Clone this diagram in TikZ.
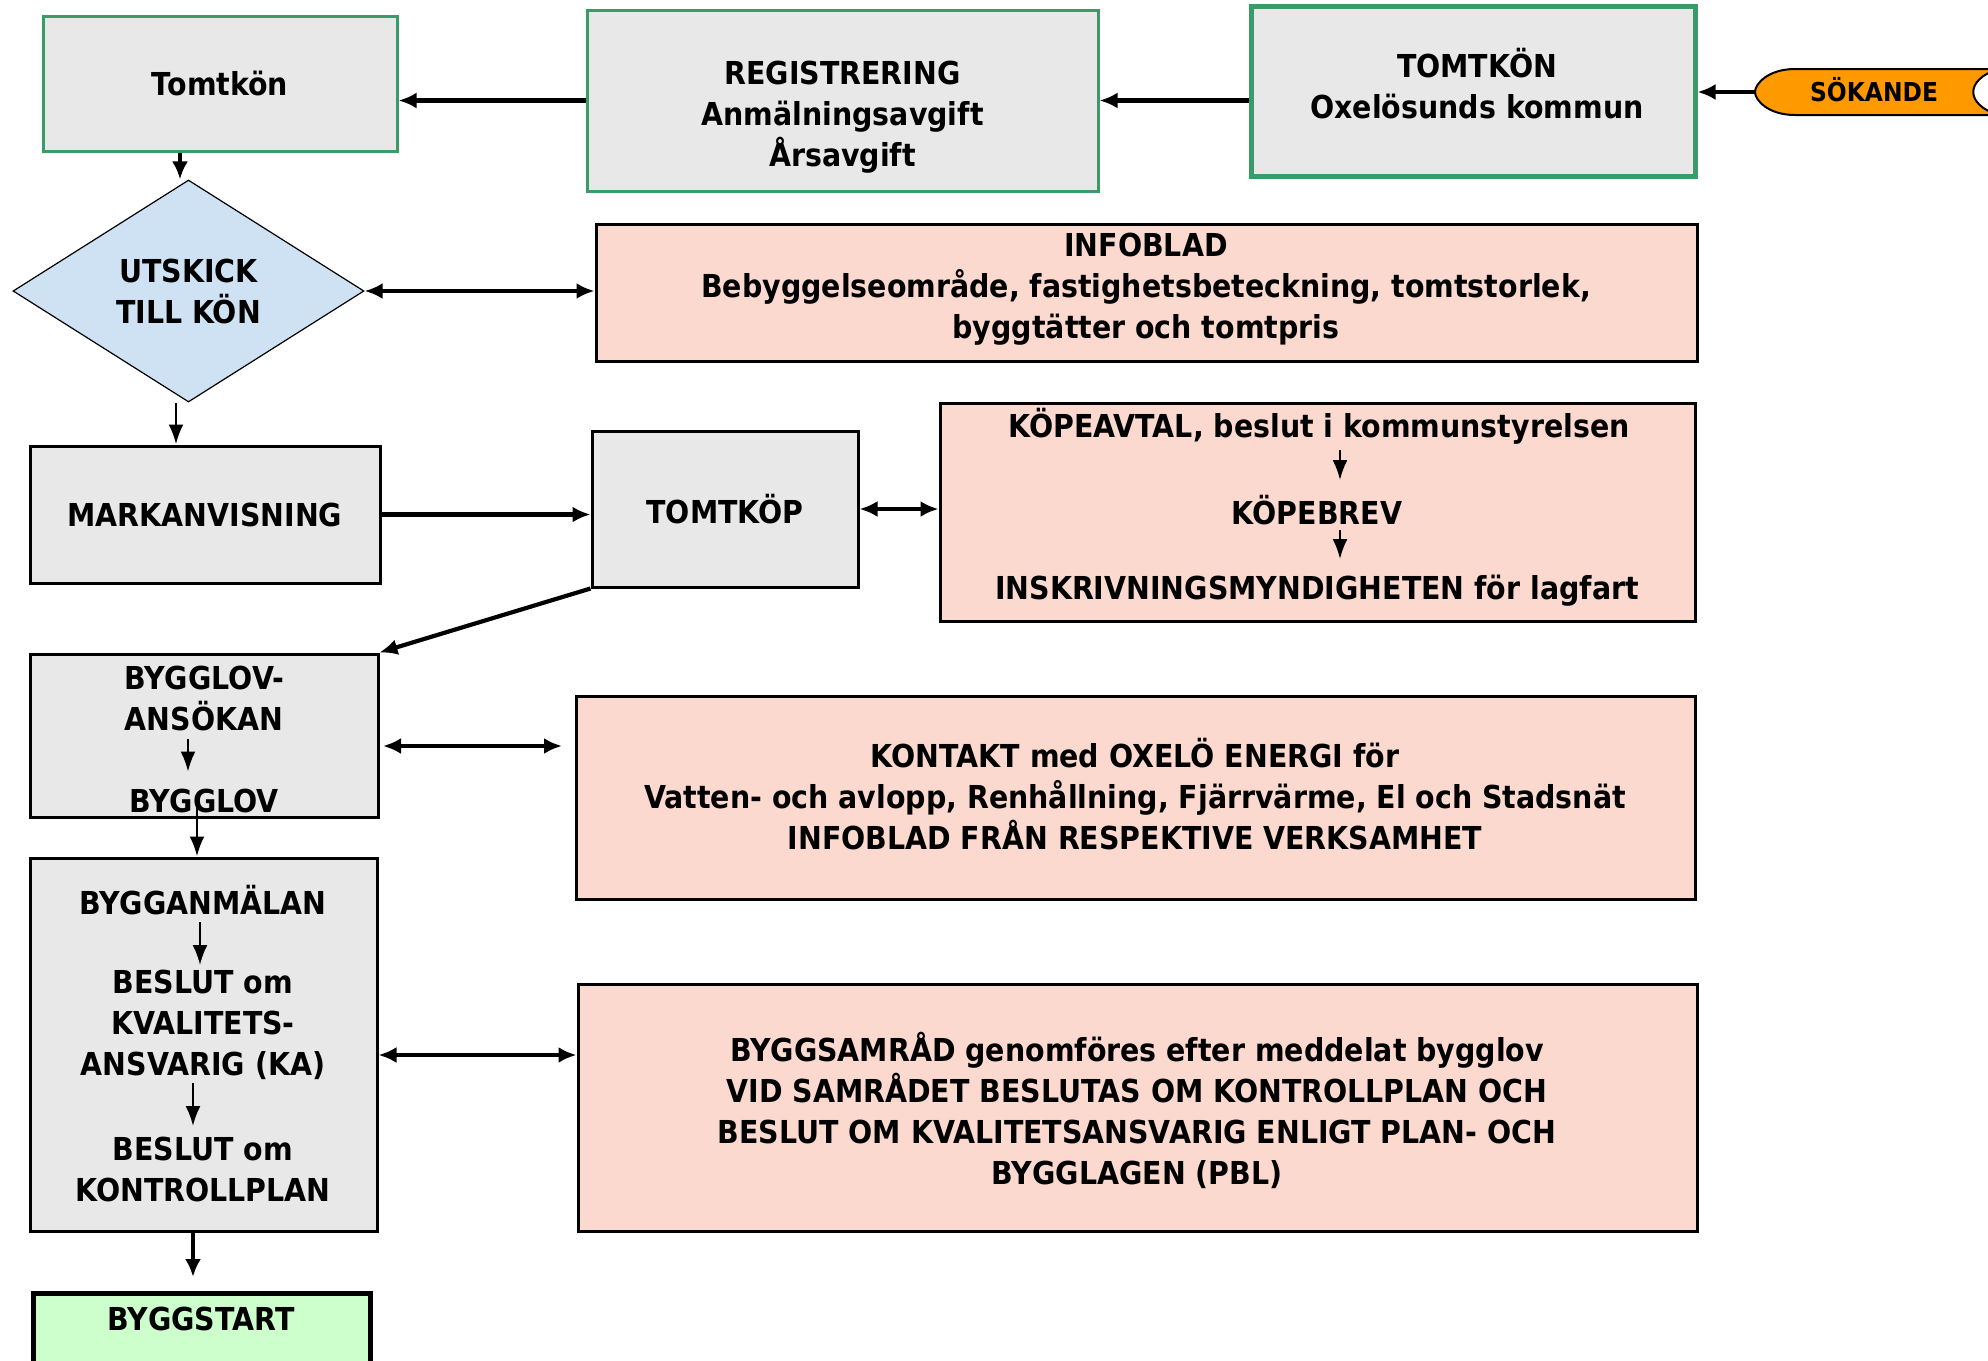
\documentclass[tikz,border=0pt]{standalone}
\usepackage{fontspec}
\setmainfont[FakeStretch=0.9]{DejaVu Sans}
\usetikzlibrary{arrows.meta,shapes.geometric,calc}
\definecolor{gborder}{RGB}{58,154,104}
\definecolor{gfill}{RGB}{232,232,232}
\definecolor{pfill}{RGB}{251,217,206}
\definecolor{bfill}{RGB}{207,226,243}
\definecolor{ofill}{RGB}{255,153,0}
\definecolor{lgfill}{RGB}{204,255,204}
\begin{document}
\begin{tikzpicture}[x=0.5pt,y=-0.5pt,
 txt/.style={font=\bfseries\fontsize{15.8}{20.5}\selectfont, align=center, inner sep=0pt},
 box/.style={draw, inner sep=0pt, line width=1.5pt},
 greenbox/.style={box, draw=gborder, fill=gfill},
 greybox/.style={box, fill=gfill},
 pinkbox/.style={box, fill=pfill},
 arr/.style={line width=2.1pt, -{Latex[length=9pt,width=8pt]}},
 darr/.style={line width=2.1pt, {Latex[length=9pt,width=8pt]}-{Latex[length=9pt,width=8pt]}},
 sarr/.style={line width=1.1pt, -{Latex[length=10pt,width=7.5pt]}},
]
\fill[white] (0,0) rectangle (1988,1361);
\useasboundingbox (0,0) rectangle (1988,1361);

% top row
\node[greenbox, minimum width=177pt, minimum height=67.5pt, txt] (tomtkon) at (220,83.5) {Tomtkön};
\node[greenbox, minimum width=255.5pt, minimum height=90.5pt] (reg) at (842.5,100.5) {};
\node[txt] (regT) at (842.5,117) {REGISTRERING\\Anmälningsavgift\\Årsavgift};
\node[greenbox, line width=2.5pt, minimum width=222pt, minimum height=85pt] (tk2) at (1473,91) {};
\node[txt] (tk2T) at (1477,84) {TOMTKÖN\\Oxelösunds kommun};

% SÖKANDE
\filldraw[fill=ofill, draw=black, line width=1pt]
  (1795,69) -- (1998,69) .. controls (1965,80) and (1965,104) .. (1998,115)
  -- (1795,115) .. controls (1768,115) and (1755,100) .. (1755,92)
  .. controls (1755,84) and (1768,69) .. (1795,69) -- cycle;
\coordinate (soktip) at (1755,92);
\node[font=\bfseries\fontsize{13}{15}\selectfont, inner sep=0pt] (sok) at (1874,90) {SÖKANDE};

% diamond + infoblad
\node[diamond, draw, fill=bfill, line width=0.6pt, shape aspect=1.58,
      minimum width=175.5pt, minimum height=111pt, txt] (dia) at (188.5,291) {UTSKICK\\TILL KÖN};
\node[pinkbox, minimum width=550.5pt, minimum height=68.5pt] (info) at (1146.5,292.5) {};
\node[txt] (infoT) at (1146,289) {INFOBLAD\\Bebyggelseområde, fastighetsbeteckning, tomtstorlek,\\byggtätter och tomtpris};

% markanvisning / tomtköp / köpeavtal
\node[greybox, minimum width=175pt, minimum height=68.5pt, txt] (mark) at (205,514.5) {MARKANVISNING};
\node[greybox, minimum width=133pt, minimum height=78pt, txt] (tomtkop) at (725,509) {TOMTKÖP};
\node[pinkbox, minimum width=377.5pt, minimum height=109pt] (kop) at (1317.5,512) {};
\node[txt] (k1) at (1319,426) {KÖPEAVTAL, beslut i kommunstyrelsen};
\node[txt] (k2) at (1317,510) {KÖPEBREV};
\node[txt] (k3) at (1317,591) {INSKRIVNINGSMYNDIGHETEN för lagfart};
\draw[sarr] ($(k1)+(21,24)$) -- ($(k1)+(21,54)$);
\draw[sarr] ($(k2)+(23,20)$) -- ($(k2)+(23,49)$);

% bygglov
\node[greybox, minimum width=174pt, minimum height=81.5pt] (byg) at (204,735.5) {};
\node[txt] (b1) at (204,698.5) {BYGGLOV-\\ANSÖKAN};
\node[txt] (b2) at (204,801) {BYGGLOV};
\draw[sarr] ($(b1)+(-16,40)$) -- ($(b1)+(-16,73)$);

\node[pinkbox, minimum width=559.5pt, minimum height=101.5pt] (kont) at (1135.5,797.5) {};
\node[txt] (kontT) at (1135,794.5) {KONTAKT med OXELÖ ENERGI för\\Vatten- och avlopp, Renhållning, Fjärrvärme, El och Stadsnät\\INFOBLAD FRÅN RESPEKTIVE VERKSAMHET};

% bygganmälan
\node[greybox, minimum width=173.5pt, minimum height=186.5pt] (anm) at (203.5,1044.5) {};
\node[txt] (a1) at (203,900) {BYGGANMÄLAN};
\node[txt] (a2) at (203,1025) {BESLUT om\\KVALITETS-\\ANSVARIG (KA)};
\node[txt] (a3) at (203,1169) {BESLUT om\\KONTROLLPLAN};
\draw[sarr] ($(a1)+(-3,22)$) -- ($(a1)+(-3,65)$);
\draw[sarr] ($(a2)+(-10,58)$) -- ($(a2)+(-10,101)$);

\node[pinkbox, minimum width=559.5pt, minimum height=123.5pt] (sam) at (1137.5,1107.5) {};
\node[txt] (samT) at (1137,1110) {BYGGSAMRÅD genomföres efter meddelat bygglov\\VID SAMRÅDET BESLUTAS OM KONTROLLPLAN OCH\\BESLUT OM KVALITETSANSVARIG ENLIGT PLAN- OCH\\BYGGLAGEN (PBL)};

% byggstart
\node[box, line width=2.5pt, fill=lgfill, minimum width=168.5pt, minimum height=63.5pt] (start) at (201.5,1356.5) {};
\node[txt] (startT) at (201,1319) {BYGGSTART};

% connectors
\draw[arr] (tk2.west |- reg.east) -- (reg.east);
\draw[arr] (reg.west) -- (reg.west -| tomtkon.east);
\draw[arr] (soktip) -- (soktip -| tk2.east);
\draw[arr] (tomtkon.south -| 180,0) -- (dia.north -| 180,0);
\draw[darr] (dia.east) -- (dia.east -| info.west);
\draw[sarr, line width=1.4pt] (dia.south -| 176,0) -- (mark.north -| 176,0);
\draw[arr] (mark.east) -- (mark.east -| tomtkop.west);
\draw[darr] (tomtkop.east) -- (tomtkop.east -| kop.west);
\draw[arr] (tomtkop.south west) -- (byg.north east);
\coordinate (c1) at (383,746);
\coordinate (c2) at (562,746);
\draw[darr] (c1) -- (c2);
\draw[sarr, line width=1.4pt] ($(byg.south -| 197,0)+(0,-12)$) -- (anm.north -| 197,0);
\draw[darr] (anm.east |- 0,1055) -- (sam.west |- 0,1055);
\coordinate (c3) at (193,1277);
\draw[arr] (anm.south -| c3) -- (c3);
\end{tikzpicture}
\end{document}
